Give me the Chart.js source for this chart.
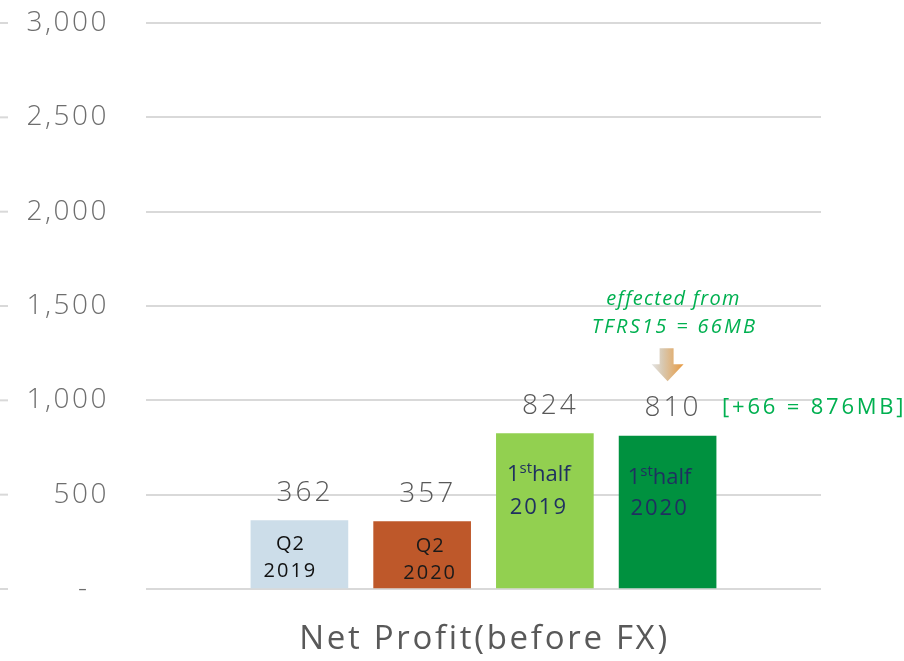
<!DOCTYPE html>
<html>
<head>
<meta charset="utf-8">
<script src="https://cdn.jsdelivr.net/npm/chart.js@4/dist/chart.umd.min.js"></script>
<style>
  html, body { margin: 0; padding: 0; background: #ffffff; }
  #wrap { width: 904px; height: 661px; }
</style>
</head>
<body>
<div id="wrap"><canvas id="c" width="904" height="661"></canvas></div>
<script>
// ---- data ----
const categories = ['Q2 2019', 'Q2 2020', '1st half 2019', '1st half 2020'];
const netProfit = [362, 357, 824, 810];
const yTickValues = [0, 500, 1000, 1500, 2000, 2500, 3000];
const innerTop = ['Q2', 'Q2', '1^st^half', '1^st^half'];
const innerBottom = ['2019', '2020', '2019', '2020'];
const xTitle = 'Net Profit(before FX)';
const noteLines = ['effected from', 'TFRS15 = 66MB'];
const noteAdjusted = '[+66 = 876MB]';

// ---- styles ----
const barColors = ['#CCDDE9', '#BE582A', '#92D050', '#00913F'];
const innerColors = ['#111111', '#1a1a1a', '#1F3060', '#1F3060'];
const innerFont = [20, 20, 22, 22];
const innerDx = [-9, 8, -6, -8];
const innerDy1 = [24, 25, 41, 42];
const innerDy2 = [50.5, 52, 74, 72.5];
const FONT = '"Open Sans", "DejaVu Sans", sans-serif';
const GREEN = '#00B050';

function drawSpaced(ctx, text, x, y, spacing) {
  ctx.letterSpacing = spacing + 'px';
  ctx.fillText(text, x, y);
  ctx.letterSpacing = '0px';
}

const overlay = {
  id: 'overlay',
  beforeDraw(chart) {
    chart.ctx.letterSpacing = '2.5px';
  },
  beforeDatasetsDraw(chart) {
    const ctx = chart.ctx;
    const y = chart.scales.y;
    ctx.save();
    ctx.strokeStyle = '#D9D9D9';
    ctx.lineWidth = 2;
    yTickValues.forEach(v => {
      const py = y.getPixelForValue(v);
      ctx.beginPath();
      ctx.moveTo(0, py);
      ctx.lineTo(8, py);
      ctx.stroke();
    });
    ctx.restore();
  },
  afterDatasetsDraw(chart) {
    const ctx = chart.ctx;
    const meta = chart.getDatasetMeta(0);
    ctx.save();
    ctx.textBaseline = 'middle';
    ctx.textAlign = 'center';
    meta.data.forEach((bar, i) => {
      // value labels
      ctx.fillStyle = '#595959';
      ctx.font = '300 28px ' + FONT;
      drawSpaced(ctx, String(netProfit[i]), bar.x + 5.5, bar.y - 28, 3);

      // inner labels
      const fs = innerFont[i];
      ctx.fillStyle = innerColors[i];
      const cx = bar.x + innerDx[i];
      const t = innerTop[i];
      if (t.indexOf('^') >= 0) {
        const parts = t.split('^');
        const sfs = Math.round(fs * 0.66);
        ctx.textAlign = 'left';
        ctx.font = fs + 'px ' + FONT;
        const w1 = ctx.measureText(parts[0]).width;
        const w3 = ctx.measureText(parts[2]).width;
        ctx.font = sfs + 'px ' + FONT;
        const w2 = ctx.measureText(parts[1]).width;
        let sx = cx - (w1 + w2 + w3) / 2;
        const ly = bar.y + innerDy1[i];
        ctx.font = fs + 'px ' + FONT;
        ctx.fillText(parts[0], sx, ly);
        sx += w1;
        ctx.font = sfs + 'px ' + FONT;
        ctx.fillText(parts[1], sx, ly - 6);
        sx += w2;
        ctx.font = fs + 'px ' + FONT;
        ctx.fillText(parts[2], sx, ly);
        ctx.textAlign = 'center';
      } else {
        ctx.font = fs + 'px ' + FONT;
        drawSpaced(ctx, t, cx, bar.y + innerDy1[i], 1);
      }
      ctx.font = fs + 'px ' + FONT;
      drawSpaced(ctx, innerBottom[i], cx, bar.y + innerDy2[i], 2);
    });

    // annotation on last bar
    const last = meta.data[meta.data.length - 1];
    ctx.fillStyle = GREEN;
    ctx.font = 'italic 20px ' + FONT;
    drawSpaced(ctx, noteLines[0], last.x + 6, last.y - 137, 1.3);
    drawSpaced(ctx, noteLines[1], last.x + 7, last.y - 109, 2.3);

    ctx.textAlign = 'left';
    ctx.font = '22px ' + FONT;
    drawSpaced(ctx, noteAdjusted, last.x + last.width / 2 + 6, last.y - 28, 2.8);

    // arrow
    const ax = last.x;
    const tip = last.y - 55;
    const g = ctx.createLinearGradient(ax - 16, 0, ax + 16, 0);
    g.addColorStop(0, '#E4E4E4');
    g.addColorStop(0.35, '#D8C8B0');
    g.addColorStop(1, '#E89A40');
    ctx.fillStyle = g;
    ctx.beginPath();
    ctx.moveTo(ax - 8, tip - 33);
    ctx.lineTo(ax + 6, tip - 33);
    ctx.lineTo(ax + 6, tip - 17);
    ctx.lineTo(ax + 16, tip - 17);
    ctx.lineTo(ax, tip);
    ctx.lineTo(ax - 16, tip - 17);
    ctx.lineTo(ax - 8, tip - 17);
    ctx.closePath();
    ctx.fill();

    // x title
    const ca = chart.chartArea;
    ctx.textAlign = 'center';
    ctx.fillStyle = '#595959';
    ctx.font = '33px ' + FONT;
    drawSpaced(ctx, xTitle, (ca.left + ca.right) / 2 + 1, 640, 2.7);
    ctx.restore();
  }
};

new Chart(document.getElementById('c'), {
  type: 'bar',
  data: {
    datasets: [{
      label: 'Net Profit',
      data: netProfit.map((v, i) => ({ x: i, y: v })),
      backgroundColor: barColors,
      borderWidth: 0,
      barThickness: 97
    }]
  },
  options: {
    responsive: false,
    animation: false,
    devicePixelRatio: 1,
    layout: { padding: { left: 0, right: 83, top: 23, bottom: 72 } },
    plugins: { legend: { display: false }, tooltip: { enabled: false } },
    scales: {
      x: {
        type: 'linear',
        offset: false,
        min: -1.25,
        max: 4.25,
        display: false
      },
      y: {
        min: 0,
        max: 3000,
        afterBuildTicks: s => { s.ticks = yTickValues.map(v => ({ value: v })); },
        afterFit: s => { s.width = 146; s.paddingTop = 0; s.paddingBottom = 0; },
        border: { display: false },
        grid: { color: '#D9D9D9', lineWidth: 2, drawTicks: false },
        ticks: {
          padding: 37,
          color: '#6E6E6E',
          font: { family: FONT, size: 28, weight: '300' },
          callback: v => v === 0 ? '-  ' : v.toLocaleString('en-US')
        }
      }
    }
  },
  plugins: [overlay]
});
</script>
</body>
</html>
